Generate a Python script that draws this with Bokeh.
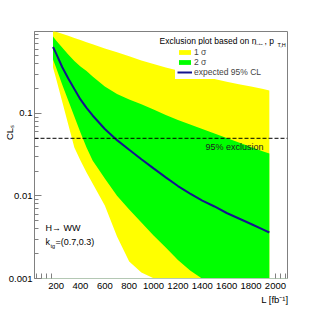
from bokeh.plotting import figure
from bokeh.models import (Range1d, FixedTicker, Label, Legend, LegendItem,
                          Span, Title)
from bokeh.embed import file_html
from bokeh.resources import INLINE

# ---- data ----
lumi = [175, 200, 250, 300, 350, 400, 450, 500, 600, 700, 800, 900, 1000,
        1100, 1200, 1300, 1400, 1500, 1600, 1700, 1800, 1900, 1950]
expected = [0.640, 0.534, 0.366, 0.266, 0.198, 0.148, 0.117, 0.0946, 0.0649,
            0.0475, 0.0363, 0.0279, 0.0216, 0.0168, 0.0132, 0.0107, 0.00881,
            0.00746, 0.00622, 0.00534, 0.00458, 0.00391, 0.00361]
green_hi = [0.857, 0.767, 0.631, 0.519, 0.433, 0.371, 0.327, 0.281, 0.212,
            0.172, 0.148, 0.129, 0.112, 0.0959, 0.0834, 0.0736, 0.0649,
            0.0573, 0.0505, 0.0445, 0.0393, 0.0346, 0.0327]
green_lo = [0.452, 0.361, 0.225, 0.144, 0.0920, 0.0589, 0.0387, 0.0269,
            0.0163, 0.0101, 0.00686, 0.00477, 0.00332, 0.00238, 0.00168,
            0.00125, 0.00099, 0.0008, 0.00066, 0.00055, 0.00046, 0.00039,
            0.00036]
yellow_hi = [1.008, 0.978, 0.923, 0.873, 0.823, 0.776, 0.732, 0.690, 0.615,
             0.552, 0.494, 0.440, 0.397, 0.361, 0.332, 0.305, 0.282, 0.261,
             0.243, 0.226, 0.212, 0.198, 0.190]
yellow_lo = [0.361, 0.266, 0.140, 0.0736, 0.0387, 0.0269, 0.0193, 0.0142,
             0.00768, 0.00323, 0.00161, 0.00118, 0.00101, 0.00082, 0.00063,
             0.0005, 0.0004, 0.00032, 0.00026, 0.00021, 0.00017, 0.00014,
             0.00012]
exclusion_level = 0.05

x_ticks = [200, 400, 600, 800, 1000, 1200, 1400, 1600, 1800, 2000]
x_minor = [40, 80, 120, 160, 2000, 2040, 2080]
y_ticks = [0.001, 0.01, 0.1]
y_labels = {0.001: "0.001", 0.01: "0.01", 0.1: "0.1"}
y_minor = [k * d for d in (0.001, 0.01, 0.1) for k in range(2, 10)]

FONT = "Liberation Sans"
GREY = "#808080"
NBSP = "\u00a0"

p = figure(width=319, height=310, x_range=Range1d(23, 2099),
           y_range=Range1d(0.001, 0.985), y_axis_type="log",
           output_backend="svg", toolbar_location=None,
           min_border_left=32, min_border_right=32, min_border_top=31,
           min_border_bottom=32)
p.grid.visible = False
p.outline_line_color = GREY
p.background_fill_color = "white"
p.border_fill_color = "white"

ry = p.varea(x=lumi, y1=yellow_lo, y2=yellow_hi, fill_color="#ffff00")
rg = p.varea(x=lumi, y1=green_lo, y2=green_hi, fill_color="#00ff00")
rl = p.line(lumi, expected, line_color="#14148f", line_width=2)

p.add_layout(Span(location=exclusion_level, dimension="width",
                  line_color="black", line_dash="4 2", line_width=1))

xa = p.xaxis[0]
xa.ticker = FixedTicker(ticks=x_ticks, minor_ticks=x_minor)
xa.major_tick_in = 0
xa.major_tick_out = 0
xa.minor_tick_in = 5
xa.minor_tick_out = 0
xa.minor_tick_line_color = GREY
xa.axis_line_color = "#b4c8b4"
xa.major_label_text_font = FONT
xa.major_label_text_font_size = "9.5px"
xa.major_label_text_color = "black"
xa.major_label_standoff = 4

ya = p.yaxis[0]
ya.ticker = FixedTicker(ticks=y_ticks, minor_ticks=y_minor)
ya.major_label_overrides = y_labels
ya.major_tick_in = 7
ya.major_tick_out = 0
ya.minor_tick_in = 4
ya.minor_tick_out = 0
ya.major_tick_line_color = GREY
ya.minor_tick_line_color = GREY
ya.axis_line_color = GREY
ya.major_label_text_font = FONT
ya.major_label_text_font_size = "9.5px"
ya.major_label_text_color = "black"
ya.major_label_standoff = 2
# y title, shifted up along the axis by leading no-break spaces
ya.axis_label = NBSP * 17 + "CL\u209b"
ya.axis_label_text_font = FONT
ya.axis_label_text_font_size = "9.5px"
ya.axis_label_text_font_style = "normal"
ya.axis_label_text_color = "black"
ya.axis_label_standoff = -9

# x title, right-aligned under the axis
p.add_layout(Title(text="L [fb\u207b\u00b9]", align="right", offset=-1,
                   standoff=0, text_font=FONT, text_font_size="9.5px",
                   text_font_style="normal", text_color="black"), "below")

legend = Legend(items=[LegendItem(label="1 σ", renderers=[ry]),
                       LegendItem(label="2 σ", renderers=[rg]),
                       LegendItem(label="expected 95% CL", renderers=[rl])],
                location=(141, 199), padding=2, margin=0, spacing=0,
                glyph_width=15, glyph_height=6, label_height=10,
                label_standoff=2, label_text_font=FONT,
                label_text_font_size="8.5px", label_text_baseline="middle",
                background_fill_color="white", background_fill_alpha=1.0,
                border_line_alpha=0)
p.add_layout(legend)


def lab(text, x, y, size, color="black", **kw):
    p.add_layout(Label(x=x, y=y, x_units="screen", y_units="screen",
                       text=text, text_font=FONT, text_font_size=size,
                       text_color=color, **kw))


# legend header with subscripts
lab("Exclusion plot based on n", 125, 233, "8.5px")
lab("jets", 220, 231, "5.5px")
lab(", p", 230, 233, "8.5px")
lab("T,H", 243, 231, "5.5px")

# in-plot annotations
lab("H\u2192 WW", 11, 51, "9px", text_baseline="middle")
lab("k", 11, 37, "9px", text_baseline="middle")
lab("tg", 16, 33, "5.5px", text_baseline="middle")
lab("=(0.7,0.3)", 21, 37, "9px", text_baseline="middle")
lab("95% exclusion", 171, 132, "9px", color="#202020",
    text_baseline="middle")

open("out.html", "w").write(file_html(p, INLINE))
